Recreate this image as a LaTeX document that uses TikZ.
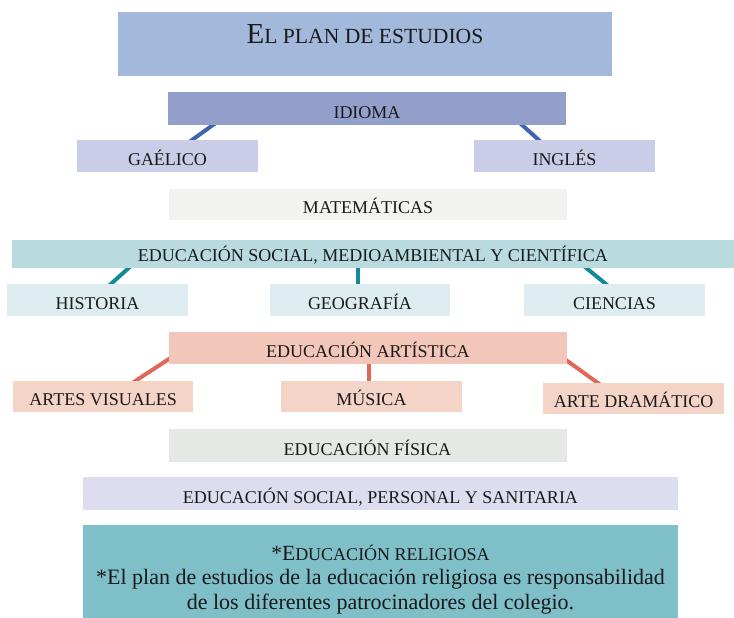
\documentclass[tikz,border=0pt]{standalone}
\usepackage{fontspec}
\setmainfont{Liberation Serif}
\usetikzlibrary{backgrounds}
\definecolor{txt}{HTML}{1A1A1A}
\definecolor{ctitle}{HTML}{A2B9DB}
\definecolor{cidioma}{HTML}{939FCB}
\definecolor{clang}{HTML}{C9CDE8}
\definecolor{cmate}{HTML}{F2F2F0}
\definecolor{cmedio}{HTML}{B9DBE0}
\definecolor{cmediosub}{HTML}{DDECEF}
\definecolor{cart}{HTML}{F2C6B8}
\definecolor{cartsub}{HTML}{F5D4C8}
\definecolor{cfis}{HTML}{E6E8E5}
\definecolor{csps}{HTML}{DCDDEE}
\definecolor{crel}{HTML}{7FBFC8}
\definecolor{lblue}{HTML}{3F66B0}
\definecolor{lteal}{HTML}{118A9A}
\definecolor{lcoral}{HTML}{E06858}
\newcommand\mybox[7]{%
  \pgfmathsetmacro\myw{#4-#2}%
  \pgfmathsetmacro\myh{#5-#3}%
  \pgfmathsetmacro\myt{#5-#3-13}%
  \node[box, fill=#6, minimum width=\myw pt, minimum height=\myh pt, text height=\myt pt] (#1) at ({(#2+#4)/2},{(#3+#5)/2}) {#7};}
\begin{document}
\begin{tikzpicture}[x=1pt,y=-1pt,
  box/.style={inner sep=0pt, outer sep=0pt, text depth=0pt, text=txt, font=\fontsize{18}{20}\selectfont},
  con/.style={line width=4pt, shorten <=-4pt, shorten >=-4pt}]
\useasboundingbox (0,0) rectangle (734,618);
% title
\node[box, fill=ctitle, minimum width=494pt, minimum height=64pt, text height=20pt, text depth=21.4pt] (title) at (365,44)
  {{\fontsize{29}{30}\selectfont E}{\fontsize{21.6}{24}\selectfont L PLAN DE ESTUDIOS}};
% boxes
\mybox{idioma}{168}{92}{566}{124.7}{cidioma}{IDIOMA}
\mybox{gaelico}{77}{140}{258}{172}{clang}{GAÉLICO}
\mybox{ingles}{474}{140}{655}{172}{clang}{INGLÉS}
\mybox{mate}{169}{189}{567}{220}{cmate}{MATEMÁTICAS}
\mybox{medio}{12}{240}{734}{268.3}{cmedio}{EDUCACIÓN SOCIAL, MEDIOAMBIENTAL Y CIENTÍFICA}
\mybox{historia}{7}{283.7}{188}{316}{cmediosub}{HISTORIA}
\mybox{geografia}{270}{283.7}{450}{316}{cmediosub}{GEOGRAFÍA}
\mybox{ciencias}{524}{283.7}{705}{316}{cmediosub}{CIENCIAS}
\mybox{artistica}{169}{332}{566.7}{364.3}{cart}{EDUCACIÓN ARTÍSTICA}
\mybox{artes}{13}{380.7}{193.3}{412}{cartsub}{ARTES VISUALES}
\mybox{musica}{281}{380.7}{462}{412}{cartsub}{MÚSICA}
\mybox{drama}{543.3}{382.7}{724}{414}{cartsub}{ARTE DRAMÁTICO}
\mybox{fisica}{168.5}{429}{566.5}{461.7}{cfis}{EDUCACIÓN FÍSICA}
\mybox{sps}{83}{476.7}{678}{510}{csps}{EDUCACIÓN SOCIAL, PERSONAL Y SANITARIA}
% religiosa
\node[box, fill=crel, minimum width=595pt, minimum height=93pt, align=center, text height=80pt, text depth=5pt,
  font=\fontsize{22}{24.5}\selectfont] (rel) at (380.5,571.5)
  {{\fontsize{21.6}{24.5}\selectfont *E}{\fontsize{18}{24.5}\selectfont DUCACIÓN RELIGIOSA}\\
   *El plan de estudios de la educación religiosa es responsabilidad\\
   de los diferentes patrocinadores del colegio.};
% connectors
\begin{pgfonlayer}{background}
\draw[con, lblue] ([xshift=45.3pt]idioma.south west) -- ([xshift=115pt]gaelico.north west);
\draw[con, lblue] ([xshift=353.7pt]idioma.south west) -- ([xshift=64.8pt]ingles.north west);
\draw[con, lteal] ([xshift=116.3pt]medio.south west) -- ([xshift=104.2pt]historia.north west);
\draw[con, lteal] ([xshift=346pt]medio.south west) -- ([xshift=88pt]geografia.north west);
\draw[con, lteal] ([xshift=574.7pt]medio.south west) -- ([xshift=81.5pt]ciencias.north west);
\draw[con, lcoral] ([yshift=5.3pt]artistica.south west) -- ([xshift=122.7pt]artes.north west);
\draw[con, lcoral] ([xshift=199.5pt]artistica.south west) -- ([xshift=87.5pt]musica.north west);
\draw[con, lcoral] ([yshift=3.8pt]artistica.south east) -- ([xshift=54.2pt]drama.north west);
\end{pgfonlayer}
\end{tikzpicture}
\end{document}
